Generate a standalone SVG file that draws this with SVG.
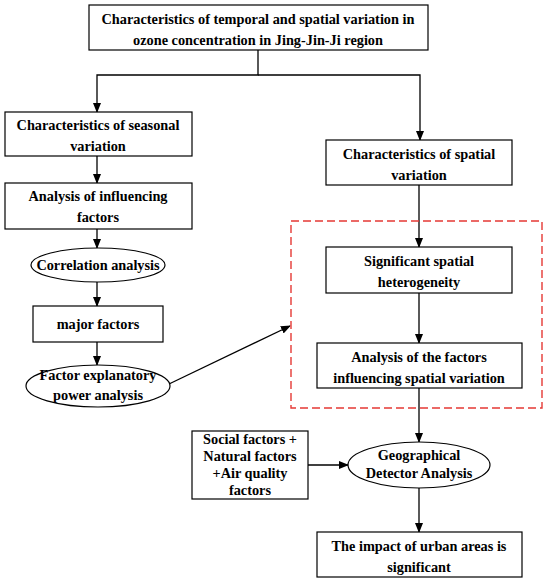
<svg xmlns="http://www.w3.org/2000/svg" width="550" height="585" viewBox="0 0 550 585">
<defs>
<style>
.box{fill:#fff;stroke:#000;stroke-width:1.2}
.t{font-family:"Liberation Serif","Times New Roman",serif;font-weight:bold;font-size:14.3px;fill:#000;text-anchor:middle}
.c{fill:none;stroke:#000;stroke-width:1.3}
</style>
<marker id="ar" markerWidth="10" markerHeight="8" refX="9" refY="4" orient="auto" markerUnits="userSpaceOnUse">
<path d="M0,0 L10,4 L0,8 Z" fill="#000"/>
</marker>
</defs>
<rect width="550" height="585" fill="#fff"/>
<g id="connectors">
<path class="c" d="M258,50 V75 H97 V112" marker-end="url(#ar)"/>
<path class="c" d="M258,75 H420 V140" marker-end="url(#ar)"/>
<path class="c" d="M97,156 V183" marker-end="url(#ar)"/>
<path class="c" d="M97,229 V248" marker-end="url(#ar)"/>
<path class="c" d="M97,282 V306" marker-end="url(#ar)"/>
<path class="c" d="M97,342 V365" marker-end="url(#ar)"/>
<path class="c" d="M169,384 L290,326" marker-end="url(#ar)"/>
<path class="c" d="M419,185 V247" marker-end="url(#ar)"/>
<path class="c" d="M419,293 V343" marker-end="url(#ar)"/>
<path class="c" d="M419,388 V442" marker-end="url(#ar)"/>
<path class="c" d="M308,465 H348" marker-end="url(#ar)"/>
<path class="c" d="M419,488 V532" marker-end="url(#ar)"/>
</g>
<g id="dashed-group">
<rect x="291" y="221" width="251" height="187" fill="none" stroke="#e53935" stroke-width="1.4" stroke-dasharray="8,4"/>
</g>
<g id="n-top">
<rect class="box" x="89" y="5" width="339" height="45"/>
<text class="t" x="258" y="24">Characteristics of temporal and spatial variation in</text>
<text class="t" x="258" y="45">ozone concentration in Jing-Jin-Ji region</text>
</g>
<g id="n-seasonal">
<rect class="box" x="5" y="112" width="187" height="44"/>
<text class="t" x="98" y="130">Characteristics of seasonal</text>
<text class="t" x="98" y="151">variation</text>
</g>
<g id="n-influencing">
<rect class="box" x="5" y="183" width="187" height="46"/>
<text class="t" x="98" y="201">Analysis of influencing</text>
<text class="t" x="98" y="222">factors</text>
</g>
<g id="n-correlation">
<ellipse class="box" cx="98" cy="265" rx="67" ry="17"/>
<text class="t" x="98" y="270">Correlation analysis</text>
</g>
<g id="n-major">
<rect class="box" x="33" y="306" width="130" height="36"/>
<text class="t" x="98" y="329">major factors</text>
</g>
<g id="n-explanatory">
<ellipse class="box" cx="98" cy="386" rx="72" ry="21"/>
<text class="t" x="98" y="380">Factor explanatory</text>
<text class="t" x="98" y="400">power analysis</text>
</g>
<g id="n-spatial">
<rect class="box" x="326" y="140" width="186" height="45"/>
<text class="t" x="419" y="159">Characteristics of spatial</text>
<text class="t" x="419" y="180">variation</text>
</g>
<g id="n-heterogeneity">
<rect class="box" x="326" y="247" width="186" height="46"/>
<text class="t" x="419" y="266">Significant spatial</text>
<text class="t" x="419" y="287">heterogeneity</text>
</g>
<g id="n-factors">
<rect class="box" x="317" y="343" width="205" height="45"/>
<text class="t" x="419" y="362">Analysis of the factors</text>
<text class="t" x="419" y="383">influencing spatial variation</text>
</g>
<g id="n-social">
<rect class="box" x="192" y="431" width="116" height="68"/>
<text class="t" x="250" y="444">Social factors +</text>
<text class="t" x="250" y="461">Natural factors</text>
<text class="t" x="250" y="478">+Air quality</text>
<text class="t" x="250" y="495">factors</text>
</g>
<g id="n-geodetector">
<ellipse class="box" cx="419" cy="465" rx="71" ry="23"/>
<text class="t" x="419" y="460">Geographical</text>
<text class="t" x="419" y="478">Detector Analysis</text>
</g>
<g id="n-impact">
<rect class="box" x="317" y="532" width="205" height="45"/>
<text class="t" x="419" y="551">The impact of urban areas is</text>
<text class="t" x="419" y="572">significant</text>
</g>
</svg>
